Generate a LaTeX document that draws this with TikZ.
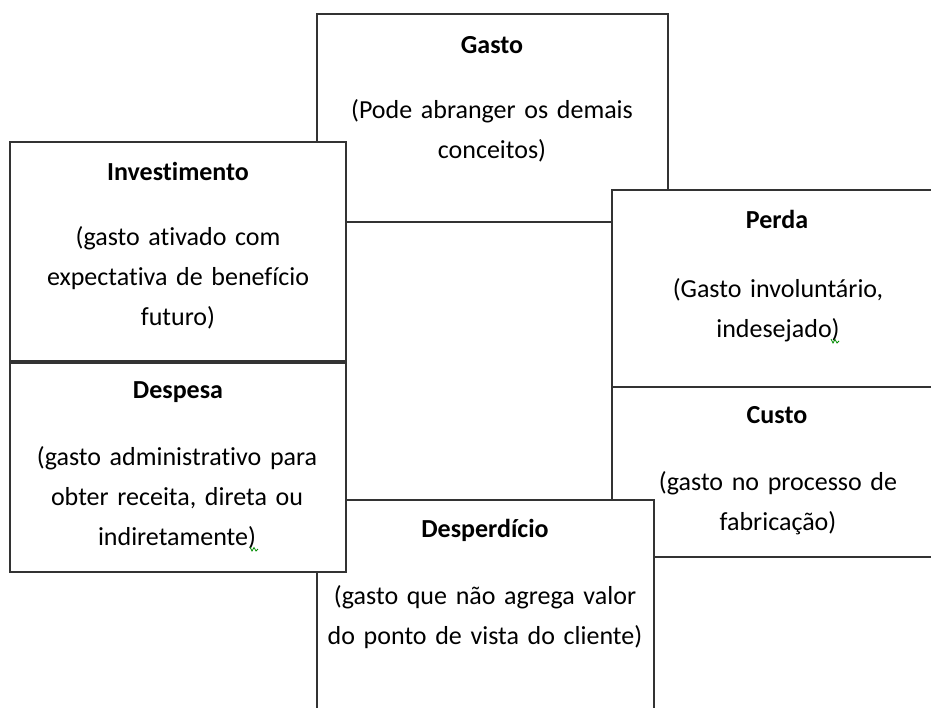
\documentclass[tikz,border=0pt]{standalone}
\usepackage{fontspec}
\setmainfont{Carlito}[Ligatures=NoCommon]
\begin{document}
\begin{tikzpicture}[
    x=1pt, y=-1pt,
    box/.style={draw=black!80, line width=1.2pt, fill=white, rectangle, inner sep=0pt},
    title/.style={font=\fontsize{26}{40}\selectfont\bfseries, anchor=base, inner sep=0pt},
    body/.style={font=\fontsize{26}{40}\selectfont, align=center, text width=330pt, anchor=base, inner sep=0pt},
    squiggle/.style={draw=green!55!black, line width=0.8pt}
]
    \clip (0,0) rectangle (931,707);

    % Gasto (behind the others)
    \node[box, minimum width=351pt, minimum height=208pt] (gasto) at (492.5,118) {};
    \node[title] (gastoT) at (492,53) {Gasto};
    \node[body] (gastoB) at (492,118) {(Pode abranger os demais\\conceitos)};

    % right column
    \node[box, minimum width=332pt, minimum height=197pt] (perda) at (778,288.5) {};
    \node[title] (perdaT) at (777,228) {Perda};
    \node[body] (perdaB) at (778,297) {(Gasto involuntário,\\indesejado)};

    \node[box, minimum width=332pt, minimum height=170pt] (custo) at (778,472) {};
    \node[title] (custoT) at (777,423) {Custo};
    \node[body] (custoB) at (778,490) {(gasto no processo de\\fabricação)};

    % bottom middle
    \node[box, minimum width=337pt, minimum height=230pt] (desperdicio) at (485.5,615) {};
    \node[title] (desperdicioT) at (485,537) {Desperdício};
    \node[body] (desperdicioB) at (485,604) {(gasto que não agrega valor\\do ponto de vista do cliente)};

    % left column
    \node[box, minimum width=336pt, minimum height=219pt] (invest) at (178,251.5) {};
    \node[title] (investT) at (178,180) {Investimento};
    \node[body] (investB) at (178,245) {(gasto ativado com\\expectativa de benefício\\futuro)};

    \node[box, minimum width=336pt, minimum height=209pt] (despesa) at (178,467.5) {};
    \node[title] (despesaT) at (178,398) {Despesa};
    \node[body] (despesaB) at (177,465) {(gasto administrativo para\\obter receita, direta ou\\indiretamente)};

    % spell-check marks
    \draw[squiggle] (831,339) -- (833,343) -- (835,339.5) -- (837,343) -- (839,341);
    \draw[squiggle] (250,547) -- (252,551) -- (254,547.5) -- (256,551) -- (258,549);
\end{tikzpicture}
\end{document}
